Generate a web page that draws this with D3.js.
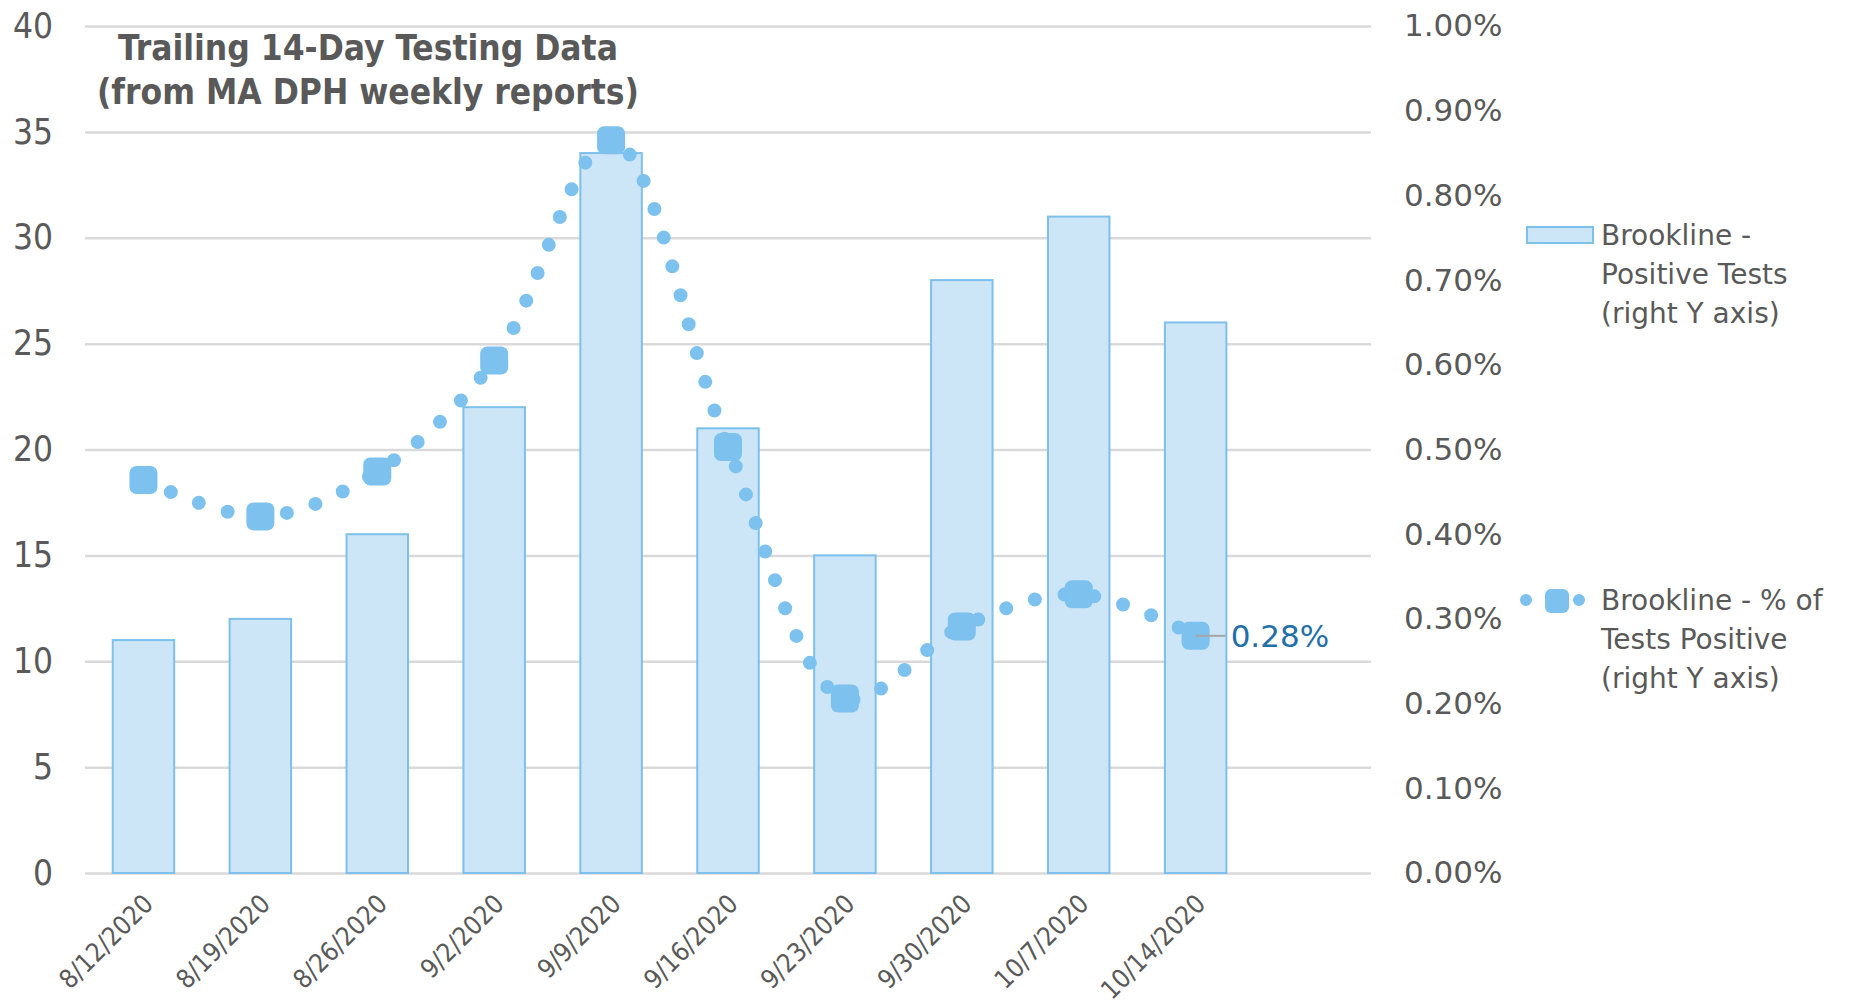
<!DOCTYPE html>
<html>
<head>
<meta charset="utf-8">
<script src="https://cdn.jsdelivr.net/npm/d3@7"></script>
<style>
  body { margin: 0; background: #fff; }
  .narrow { font-family: "Liberation Sans Narrow", "DejaVu Sans Condensed", "Roboto", sans-serif; }
  .wide { font-family: "DejaVu Sans", "Noto Sans", sans-serif; }
</style>
</head>
<body>
<div id="chart"></div>
<script>
// chart data
const dates = ["8/12/2020", "8/19/2020", "8/26/2020", "9/2/2020", "9/9/2020",
               "9/16/2020", "9/23/2020", "9/30/2020", "10/7/2020", "10/14/2020"]
const positiveTests = [11, 12, 16, 22, 34, 21, 15, 28, 31, 26]
const pctPositive = [0.464, 0.421, 0.474, 0.605, 0.865, 0.503, 0.206, 0.291, 0.329, 0.28]
const leftTicks = [0, 5, 10, 15, 20, 25, 30, 35, 40]
const rightTicks = [0, 0.1, 0.2, 0.3, 0.4, 0.5, 0.6, 0.7, 0.8, 0.9, 1.0]
const titleLines = ["Trailing 14-Day Testing Data", "(from MA DPH weekly reports)"]
const legendBar = ["Brookline -", "Positive Tests", "(right Y axis)"]
const legendLine = ["Brookline - % of", "Tests Positive", "(right Y axis)"]

const width = 1853, height = 1005
const plot = { left: 85, right: 1371, top: 26, bottom: 873 }
const textGray = "#595959"
const dotBlue = "#7DC1EE"
const barFill = "#CCE5F7"
const barStroke = "#7EC0EC"

const svg = d3.select("#chart")
    .append("svg")
    .attr("width", width)
    .attr("height", height)

// one blank slot after the last week, as in the original
const slots = dates.concat([" "])

const xScale = d3.scaleBand()
    .domain(slots)
    .range([plot.left, plot.right])
    .paddingInner(0.474)
    .paddingOuter(0.237)

const yLeft = d3.scaleLinear().domain([0, 40]).range([plot.bottom, plot.top])
const yRight = d3.scaleLinear().domain([0, 1]).range([plot.bottom, plot.top])

// gridlines + left axis
const leftAxis = d3.axisLeft(yLeft)
    .tickValues(leftTicks)
    .tickSize(-(plot.right - plot.left))
    .tickPadding(32)

const gLeft = svg.append("g")
    .attr("class", "narrow")
    .attr("transform", `translate(${plot.left},0)`)
    .call(leftAxis)
gLeft.select(".domain").remove()
gLeft.selectAll(".tick line").attr("stroke", "#D9D9D9").attr("stroke-width", 2.5)
gLeft.selectAll(".tick text")
    .attr("fill", textGray)
    .style("font-size", "35px")

// right axis (labels only)
const rightAxis = d3.axisRight(yRight)
    .tickValues(rightTicks)
    .tickSize(0)
    .tickPadding(33)
    .tickFormat(d => d.toFixed(2) + "%")

const gRight = svg.append("g")
    .attr("class", "wide")
    .attr("transform", `translate(${plot.right},0)`)
    .call(rightAxis)
gRight.select(".domain").remove()
gRight.selectAll(".tick text")
    .attr("fill", textGray)
    .style("font-size", "31px")

// x axis labels
const xAxis = d3.axisBottom(xScale).tickSize(0)
const gX = svg.append("g")
    .attr("class", "narrow")
    .attr("transform", `translate(0,${plot.bottom})`)
    .call(xAxis)
gX.select(".domain").remove()
gX.selectAll(".tick text")
    .attr("fill", textGray)
    .style("font-size", "26px")
    .style("text-anchor", "end")
    .attr("x", 0)
    .attr("y", 0)
    .attr("dy", "0.35em")
    .attr("transform", "translate(5,26) rotate(-45)")

// bars
svg.selectAll(".bar")
    .data(positiveTests)
    .enter().append("rect")
    .attr("class", "bar")
    .attr("x", (d, i) => xScale(dates[i]))
    .attr("y", d => yLeft(d))
    .attr("width", xScale.bandwidth())
    .attr("height", d => yLeft(0) - yLeft(d))
    .attr("fill", barFill)
    .attr("stroke", barStroke)
    .attr("stroke-width", 2)

// smoothed dotted line
const cx = (d, i) => xScale(dates[i]) + xScale.bandwidth() / 2
const line = d3.line()
    .x(cx)
    .y(d => yRight(d))
    .curve(d3.curveCatmullRom.alpha(0.5))

svg.append("path")
    .datum(pctPositive)
    .attr("d", line)
    .attr("fill", "none")
    .attr("stroke", dotBlue)
    .attr("stroke-width", 14)
    .attr("stroke-linecap", "round")
    .attr("stroke-dasharray", "0 30")

// point markers
const markSize = 28
svg.selectAll(".mark")
    .data(pctPositive)
    .enter().append("rect")
    .attr("class", "mark")
    .attr("x", (d, i) => cx(d, i) - markSize / 2)
    .attr("y", d => yRight(d) - markSize / 2)
    .attr("width", markSize)
    .attr("height", markSize)
    .attr("rx", 7)
    .attr("fill", dotBlue)

// data label on last point
const last = pctPositive.length - 1
const lx = cx(pctPositive[last], last)
const ly = yRight(pctPositive[last])
svg.append("line")
    .attr("x1", lx)
    .attr("x2", lx + 30)
    .attr("y1", ly)
    .attr("y2", ly)
    .attr("stroke", "#A6A6A6")
    .attr("stroke-width", 2)
svg.append("text")
    .attr("class", "wide")
    .attr("x", lx + 35)
    .attr("y", ly)
    .attr("dy", "0.35em")
    .attr("fill", "#1F6FA8")
    .style("font-size", "31px")
    .text(pctPositive[last].toFixed(2) + "%")

// title
svg.append("text")
    .attr("class", "narrow")
    .attr("text-anchor", "middle")
    .attr("fill", textGray)
    .style("font-size", "35px")
    .style("font-weight", "bold")
    .selectAll("tspan")
    .data(titleLines)
    .enter().append("tspan")
    .attr("x", 368)
    .attr("y", (d, i) => 60 + i * 44)
    .text(d => d)

// legend
const legend = svg.append("g").attr("class", "wide")

legend.append("rect")
    .attr("x", 1527)
    .attr("y", 227)
    .attr("width", 66)
    .attr("height", 16)
    .attr("fill", barFill)
    .attr("stroke", barStroke)
    .attr("stroke-width", 2)

legend.append("path")
    .attr("d", "M1526,600H1582")
    .attr("stroke", dotBlue)
    .attr("stroke-width", 12)
    .attr("stroke-linecap", "round")
    .attr("stroke-dasharray", "0 53")
legend.append("rect")
    .attr("x", 1545)
    .attr("y", 589)
    .attr("width", 24)
    .attr("height", 24)
    .attr("rx", 6)
    .attr("fill", dotBlue)

const legendText = (lines, y0) => {
    legend.append("text")
        .attr("fill", textGray)
        .style("font-size", "28px")
        .selectAll("tspan")
        .data(lines)
        .enter().append("tspan")
        .attr("x", 1601)
        .attr("y", (d, i) => y0 + i * 39)
        .attr("dy", "0.35em")
        .text(d => d)
}
legendText(legendBar, 235)
legendText(legendLine, 600)
</script>
</body>
</html>
